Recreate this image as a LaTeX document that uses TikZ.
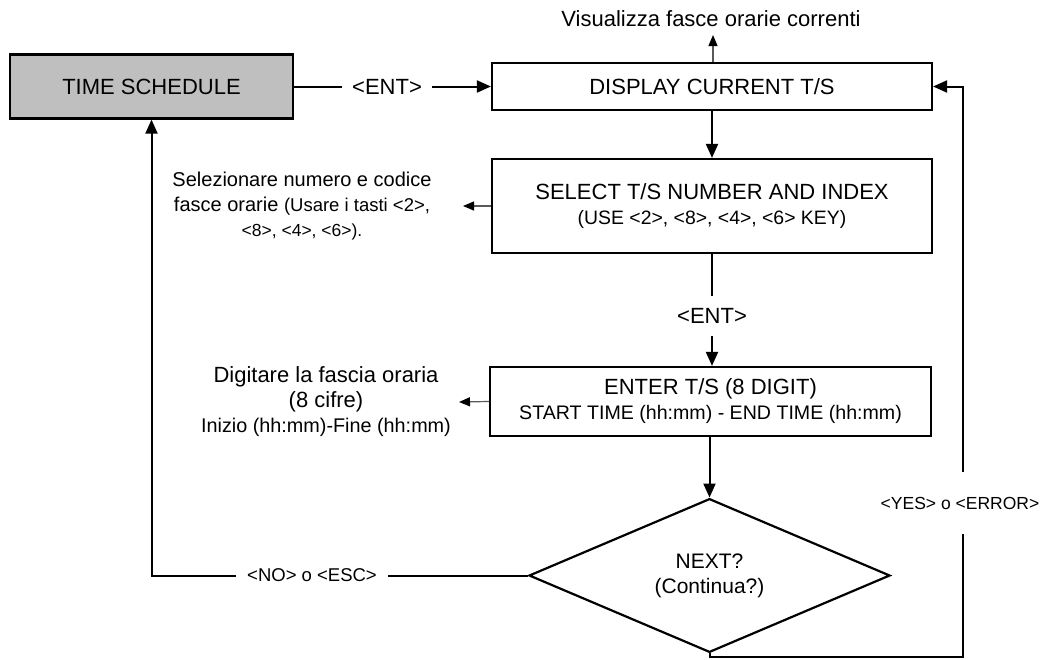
\documentclass[tikz,border=0pt]{standalone}
\usepackage{fontspec}
\setmainfont{Liberation Sans}
\usetikzlibrary{arrows.meta,shapes.geometric}
\newcommand\sizedtext[1]{\fontsize{#1}{25}\selectfont}
\begin{document}
\begin{tikzpicture}[x=1pt,y=-1pt,
  every node/.style={font=\sizedtext{22}},
  box/.style={draw,line width=2.2pt,align=center,inner sep=0pt},
  flow/.style={line width=2pt,-{Triangle[length=14pt,width=12pt]}},
  wire/.style={line width=2pt},
  note/.style={line width=1.2pt,draw=black!65,-{Triangle[length=11pt,width=9pt,fill=black,color=black]}},
  lbl/.style={inner sep=0pt,align=center}
]
\useasboundingbox (0,0) rectangle (1044,659);

% process boxes
\node[box,fill=black!25,minimum width=283pt,minimum height=64pt] (ts) at (151.5,86.5) {TIME SCHEDULE};
\node[box,minimum width=440pt,minimum height=47pt] (disp) at (712,86.5) {DISPLAY CURRENT T/S};
\node[box,minimum width=440pt,minimum height=94pt] (sel) at (712,206)
  {SELECT T/S NUMBER AND INDEX\\{\sizedtext{19.4}(USE <2>, <8>, <4>, <6> KEY)}};
\node[box,minimum width=441pt,minimum height=69pt] (ent) at (710.5,401.5)
  {ENTER T/S (8 DIGIT)\\{\sizedtext{19.6}START TIME (hh:mm) - END TIME (hh:mm)}};
\node[draw,diamond,line width=2.2pt,inner sep=0pt,minimum width=361pt,minimum height=93pt,
      align=center,font=\sizedtext{21}] (next) at (709.5,575.5)
  {NEXT?\\(Continua?)};

% side notes
\node[lbl] (vis) at (711,19) {Visualizza fasce orarie correnti};
\node[lbl,font=\sizedtext{20}] (selnote) at (302,206)
  {Selezionare numero e codice\\fasce orarie {\sizedtext{18.5}(Usare i tasti <2>,}\\{\sizedtext{17.5}<8>, <4>, <6>).}};
\node[lbl] (entnote) at (326,402)
  {Digitare la fascia oraria\\(8 cifre)\\{\sizedtext{19.8}Inizio (hh:mm)-Fine (hh:mm)}};

% branch labels
\node[lbl,inner xsep=10pt] (k1) at (387,86.5) {<ENT>};
\node[lbl,inner ysep=12pt] (k2) at (712,316) {<ENT>};
\node[lbl,inner xsep=11pt,font=\sizedtext{18.5}] (kno) at (312,575.5) {<NO> o <ESC>};
\node[lbl,inner ysep=25pt,font=\sizedtext{17.5}] (kyes) at (960,503) {<YES> o <ERROR>};

\coordinate (visp) at (713,35);
\coordinate (selp) at (463,206);
\coordinate (entp) at (459,402);
\coordinate (bl) at (709.5,657);
\coordinate (br) at (963,657);
\coordinate (tr) at (963,86.5);

% main flow
\draw[wire] (ts.east) -- (k1.west);
\draw[flow] (k1.east) -- (disp.west);
\draw[flow] (disp.south) -- (sel.north);
\draw[wire] (sel.south) -- (k2.north);
\draw[flow] (k2.south) -- (k2.south |- ent.north);
\draw[flow] (ent.south -| next.north) -- (next.north);

% loops back
\draw[wire] (next.west) -- (kno.east);
\draw[flow] (kno.west) -| (ts.south);
\draw[wire] (next.south) -- (bl) -- (br) -- (kyes.south -| br);
\draw[flow] (kyes.north -| br) -- (tr) -- (disp.east);

% notes
\draw[note] (disp.north -| visp) -- (visp);
\draw[note] (sel.west) -- (selp);
\draw[note] (ent.west) -- (entp);
\end{tikzpicture}
\end{document}
